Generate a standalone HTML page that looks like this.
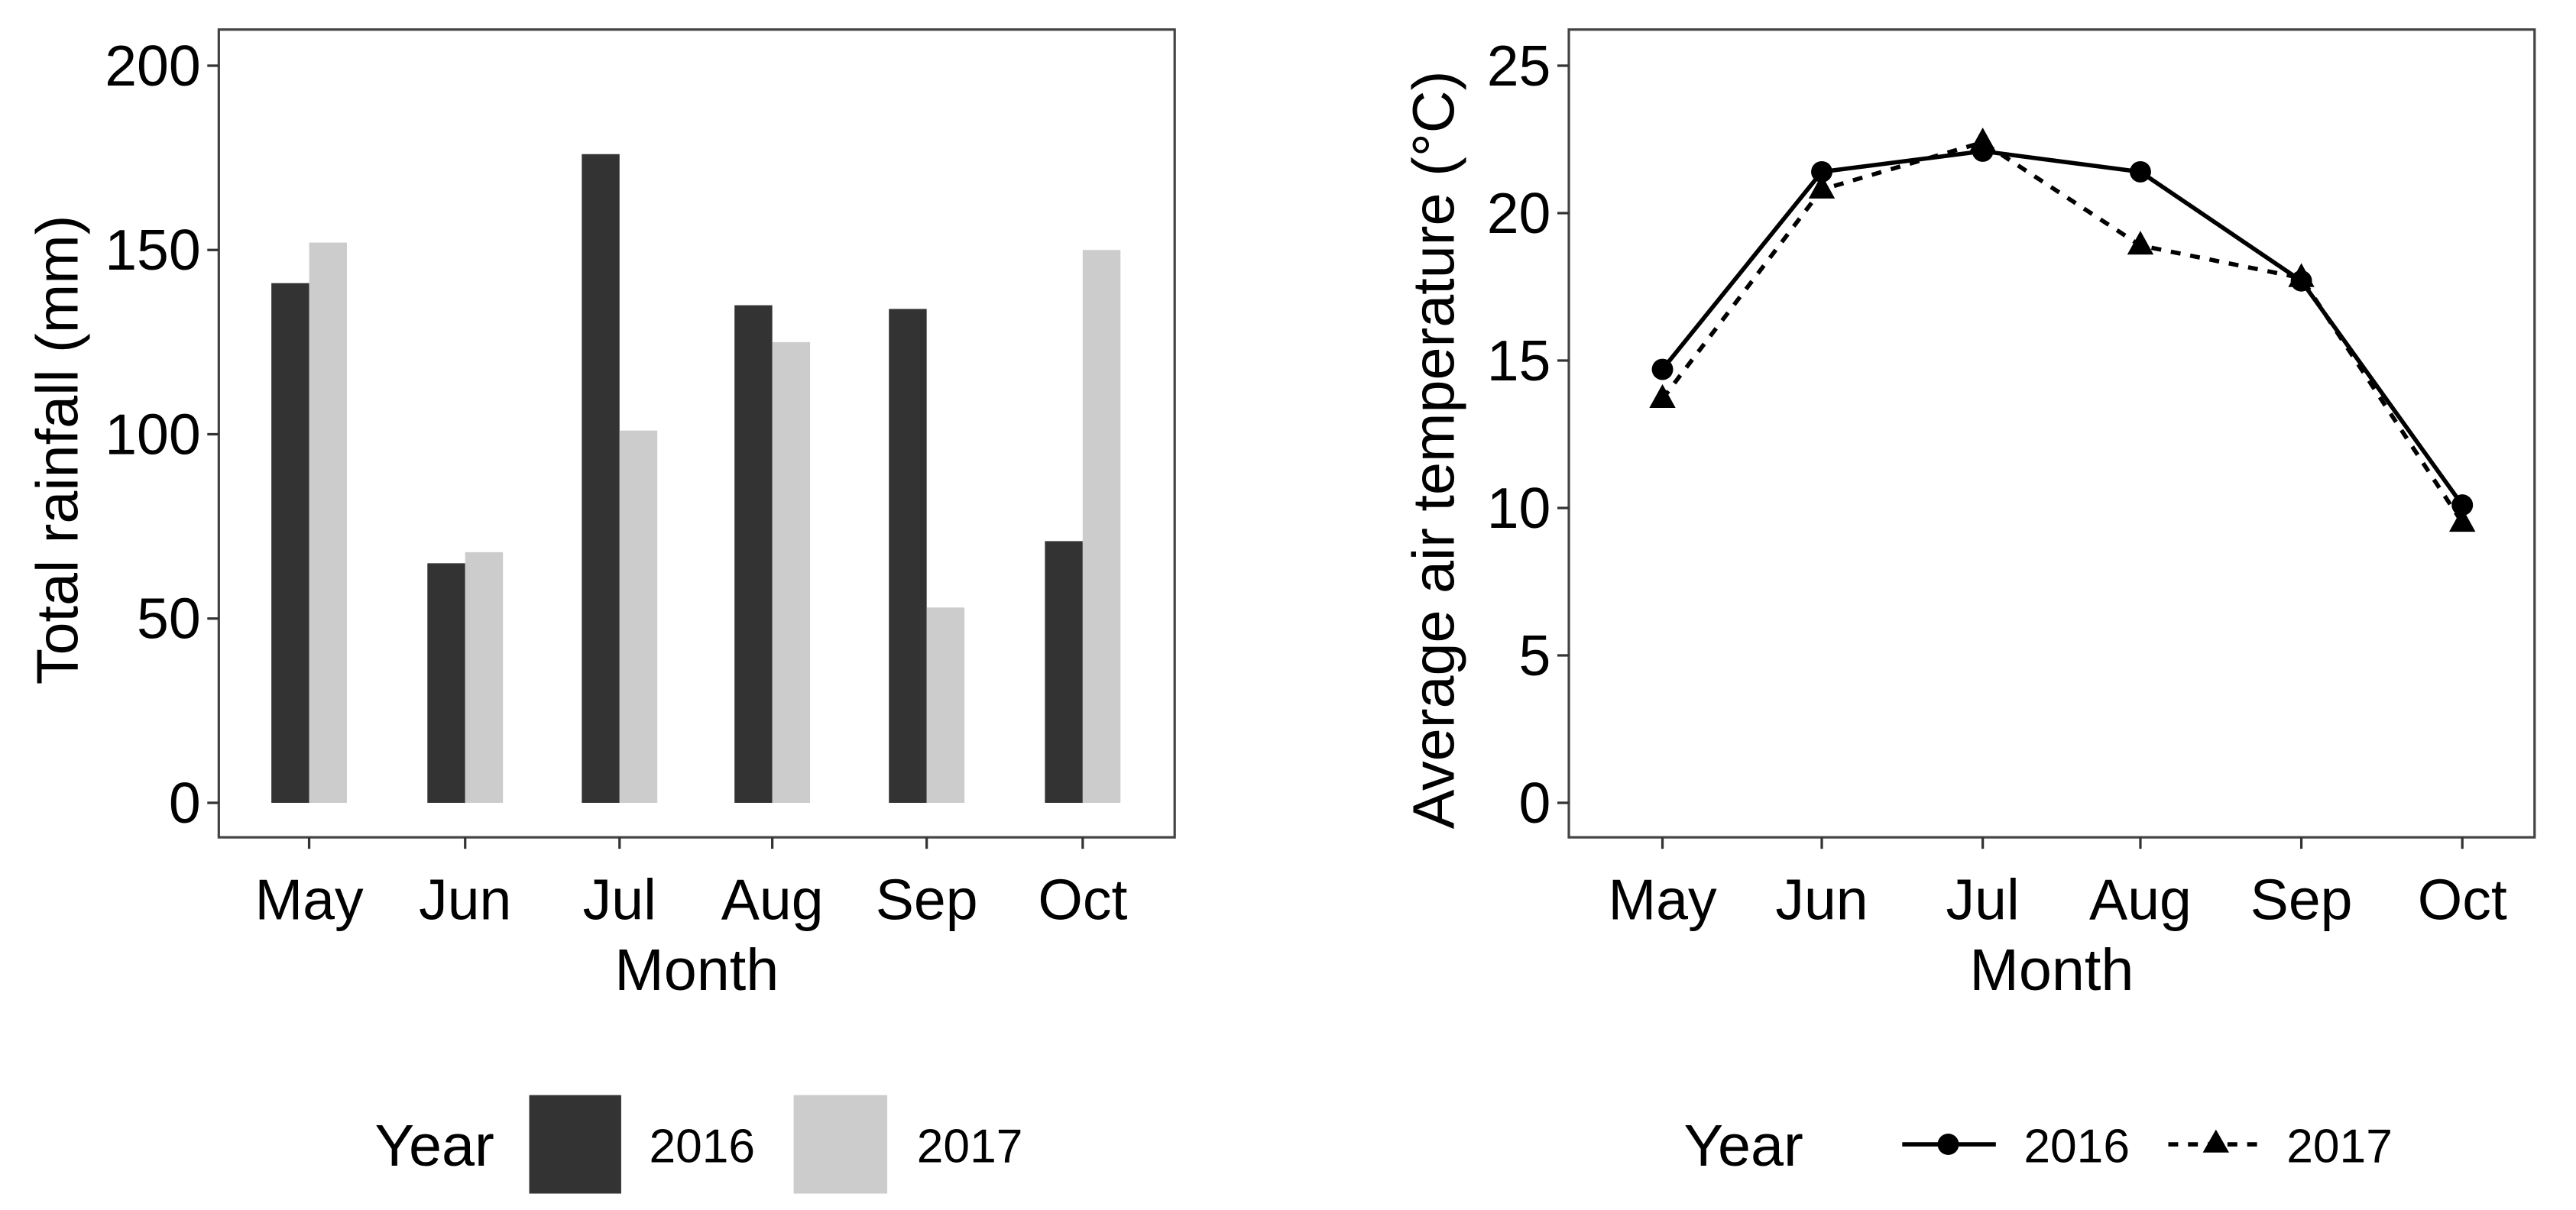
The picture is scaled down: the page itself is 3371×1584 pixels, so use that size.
<!DOCTYPE html>
<html><head><meta charset="utf-8">
<style>
html,body{margin:0;padding:0;background:#fff;}
svg{display:block;font-family:"Liberation Sans",sans-serif;}
</style></head>
<body>
<svg id="fig" width="3371" height="1584" viewBox="0 0 1568 737" xmlns="http://www.w3.org/2000/svg">
<rect width="1568" height="737" fill="#fff"/>
<g id="left"></g>
<g id="right"></g>
</svg>
<script>
const months = ["May","Jun","Jul","Aug","Sep","Oct"];
const rain2016 = [141, 65, 176, 135, 134, 71];
const rain2017 = [152, 68, 101, 125, 53, 150];
const rainTicks = [0, 50, 100, 150, 200];
const temp2016 = [14.7, 21.4, 22.1, 21.4, 17.7, 10.1];
const temp2017 = [13.7, 20.8, 22.4, 18.9, 17.8, 9.5];
const tempTicks = [0, 5, 10, 15, 20, 25];

const NS = "http://www.w3.org/2000/svg";
function mk(parent, tag, attrs, text){
  const e = document.createElementNS(NS, tag);
  for (const k in attrs) e.setAttribute(k, attrs[k]);
  if (text !== undefined) e.textContent = text;
  parent.appendChild(e);
  return e;
}

function panel(g, L, R, xpos, ymax, ticks, ytitle, ytitleX){
  const T = 18, B = 510, y0 = 489, yTop = 40;
  const ys = v => y0 - (v / ymax) * (y0 - yTop);
  const xs = i => xpos[i];
  const border = mk(g, "rect", {x:L, y:T, width:R-L, height:B-T, fill:"none", stroke:"#444", "stroke-width":1.5});
  
  
  ticks.forEach(t => {
    const tk = mk(g, "line", {x1:L-7, x2:L, y1:ys(t), y2:ys(t), stroke:"#333", "stroke-width":1.5});
    
    
    const lb = mk(g, "text", {x:L-11, y:ys(t)+12, "text-anchor":"end", "font-size":35, fill:"#000"}, t);
    
    
  });
  months.forEach((m, i) => {
    const tk = mk(g, "line", {x1:xs(i), x2:xs(i), y1:B, y2:B+7, stroke:"#333", "stroke-width":1.5});
    
    
    const lb = mk(g, "text", {x:xs(i), y:560, "text-anchor":"middle", "font-size":35, fill:"#000"}, m);
    
    
  });
  const xt = mk(g, "text", {x:(L+R)/2, y:603, "text-anchor":"middle", "font-size":36, fill:"#000"}, "Month");
  
  
  const cy = (T+B)/2 + 10;
  const yt = mk(g, "text", {x:ytitleX, y:cy, "text-anchor":"middle", "font-size":36, fill:"#000", transform:`rotate(-90 ${ytitleX} ${cy})`}, ytitle);
  
  
  return ys;
}

// Left: bar chart
const gl = document.getElementById("left");
const lx = [188, 283, 377, 470, 564, 659];
const ysl = panel(gl, 133, 715, lx, 200, rainTicks, "Total rainfall (mm)", 47);
const bw = 23;
months.forEach((m, i) => {
  const b1 = mk(gl, "rect", {x:lx[i]-bw, y:ysl(rain2016[i]), width:bw, height:ysl(0)-ysl(rain2016[i]), fill:"#333"});
  
  
  const b2 = mk(gl, "rect", {x:lx[i], y:ysl(rain2017[i]), width:bw, height:ysl(0)-ysl(rain2017[i]), fill:"#cccccc"});
  
  
});
// left legend
const ll = mk(gl, "g", {});


mk(ll, "text", {x:228, y:710, "font-size":36, fill:"#000"}, "Year");
const k1 = mk(ll, "rect", {x:322, y:667, width:56, height:60, fill:"#333"});


mk(ll, "text", {x:395, y:708, "font-size":29, fill:"#000"}, "2016");
const k2 = mk(ll, "rect", {x:483, y:667, width:57, height:60, fill:"#cccccc"});


mk(ll, "text", {x:558, y:708, "font-size":29, fill:"#000"}, "2017");

// Right: line chart
const gr = document.getElementById("right");
const rx = [1012, 1109, 1207, 1303, 1401, 1499];
const ysr = panel(gr, 955, 1543, rx, 25, tempTicks, "Average air temperature (°C)", 885);
const p16 = temp2016.map((v,i)=>rx[i]+","+ysr(v)).join(" ");
const p17 = temp2017.map((v,i)=>rx[i]+","+ysr(v)).join(" ");
const l17 = mk(gr, "polyline", {points:p17, fill:"none", stroke:"#000", "stroke-width":2.6, "stroke-dasharray":"6,6"});


const l16 = mk(gr, "polyline", {points:p16, fill:"none", stroke:"#000", "stroke-width":2.6});


months.forEach((m, i) => {
  const c = mk(gr, "circle", {cx:rx[i], cy:ysr(temp2016[i]), r:6.5, fill:"#000"});
  
  
  const x = rx[i], y = ysr(temp2017[i]);
  const t = mk(gr, "polygon", {points:`${x},${y-9} ${x-8},${y+5.5} ${x+8},${y+5.5}`, fill:"#000"});
  
  
});
// right legend
const rl = mk(gr, "g", {});


mk(rl, "text", {x:1025, y:710, "font-size":36, fill:"#000"}, "Year");
mk(rl, "line", {x1:1158, x2:1215, y1:697, y2:697, stroke:"#000", "stroke-width":2.6});
mk(rl, "circle", {cx:1186, cy:697, r:6.5, fill:"#000"});
mk(rl, "text", {x:1232, y:708, "font-size":29, fill:"#000"}, "2016");
mk(rl, "line", {x1:1320, x2:1377, y1:697, y2:697, stroke:"#000", "stroke-width":2.6, "stroke-dasharray":"6,6"});
mk(rl, "polygon", {points:"1349,688 1341,702 1357,702", fill:"#000"});
mk(rl, "text", {x:1392, y:708, "font-size":29, fill:"#000"}, "2017");
</script>
</body></html>
